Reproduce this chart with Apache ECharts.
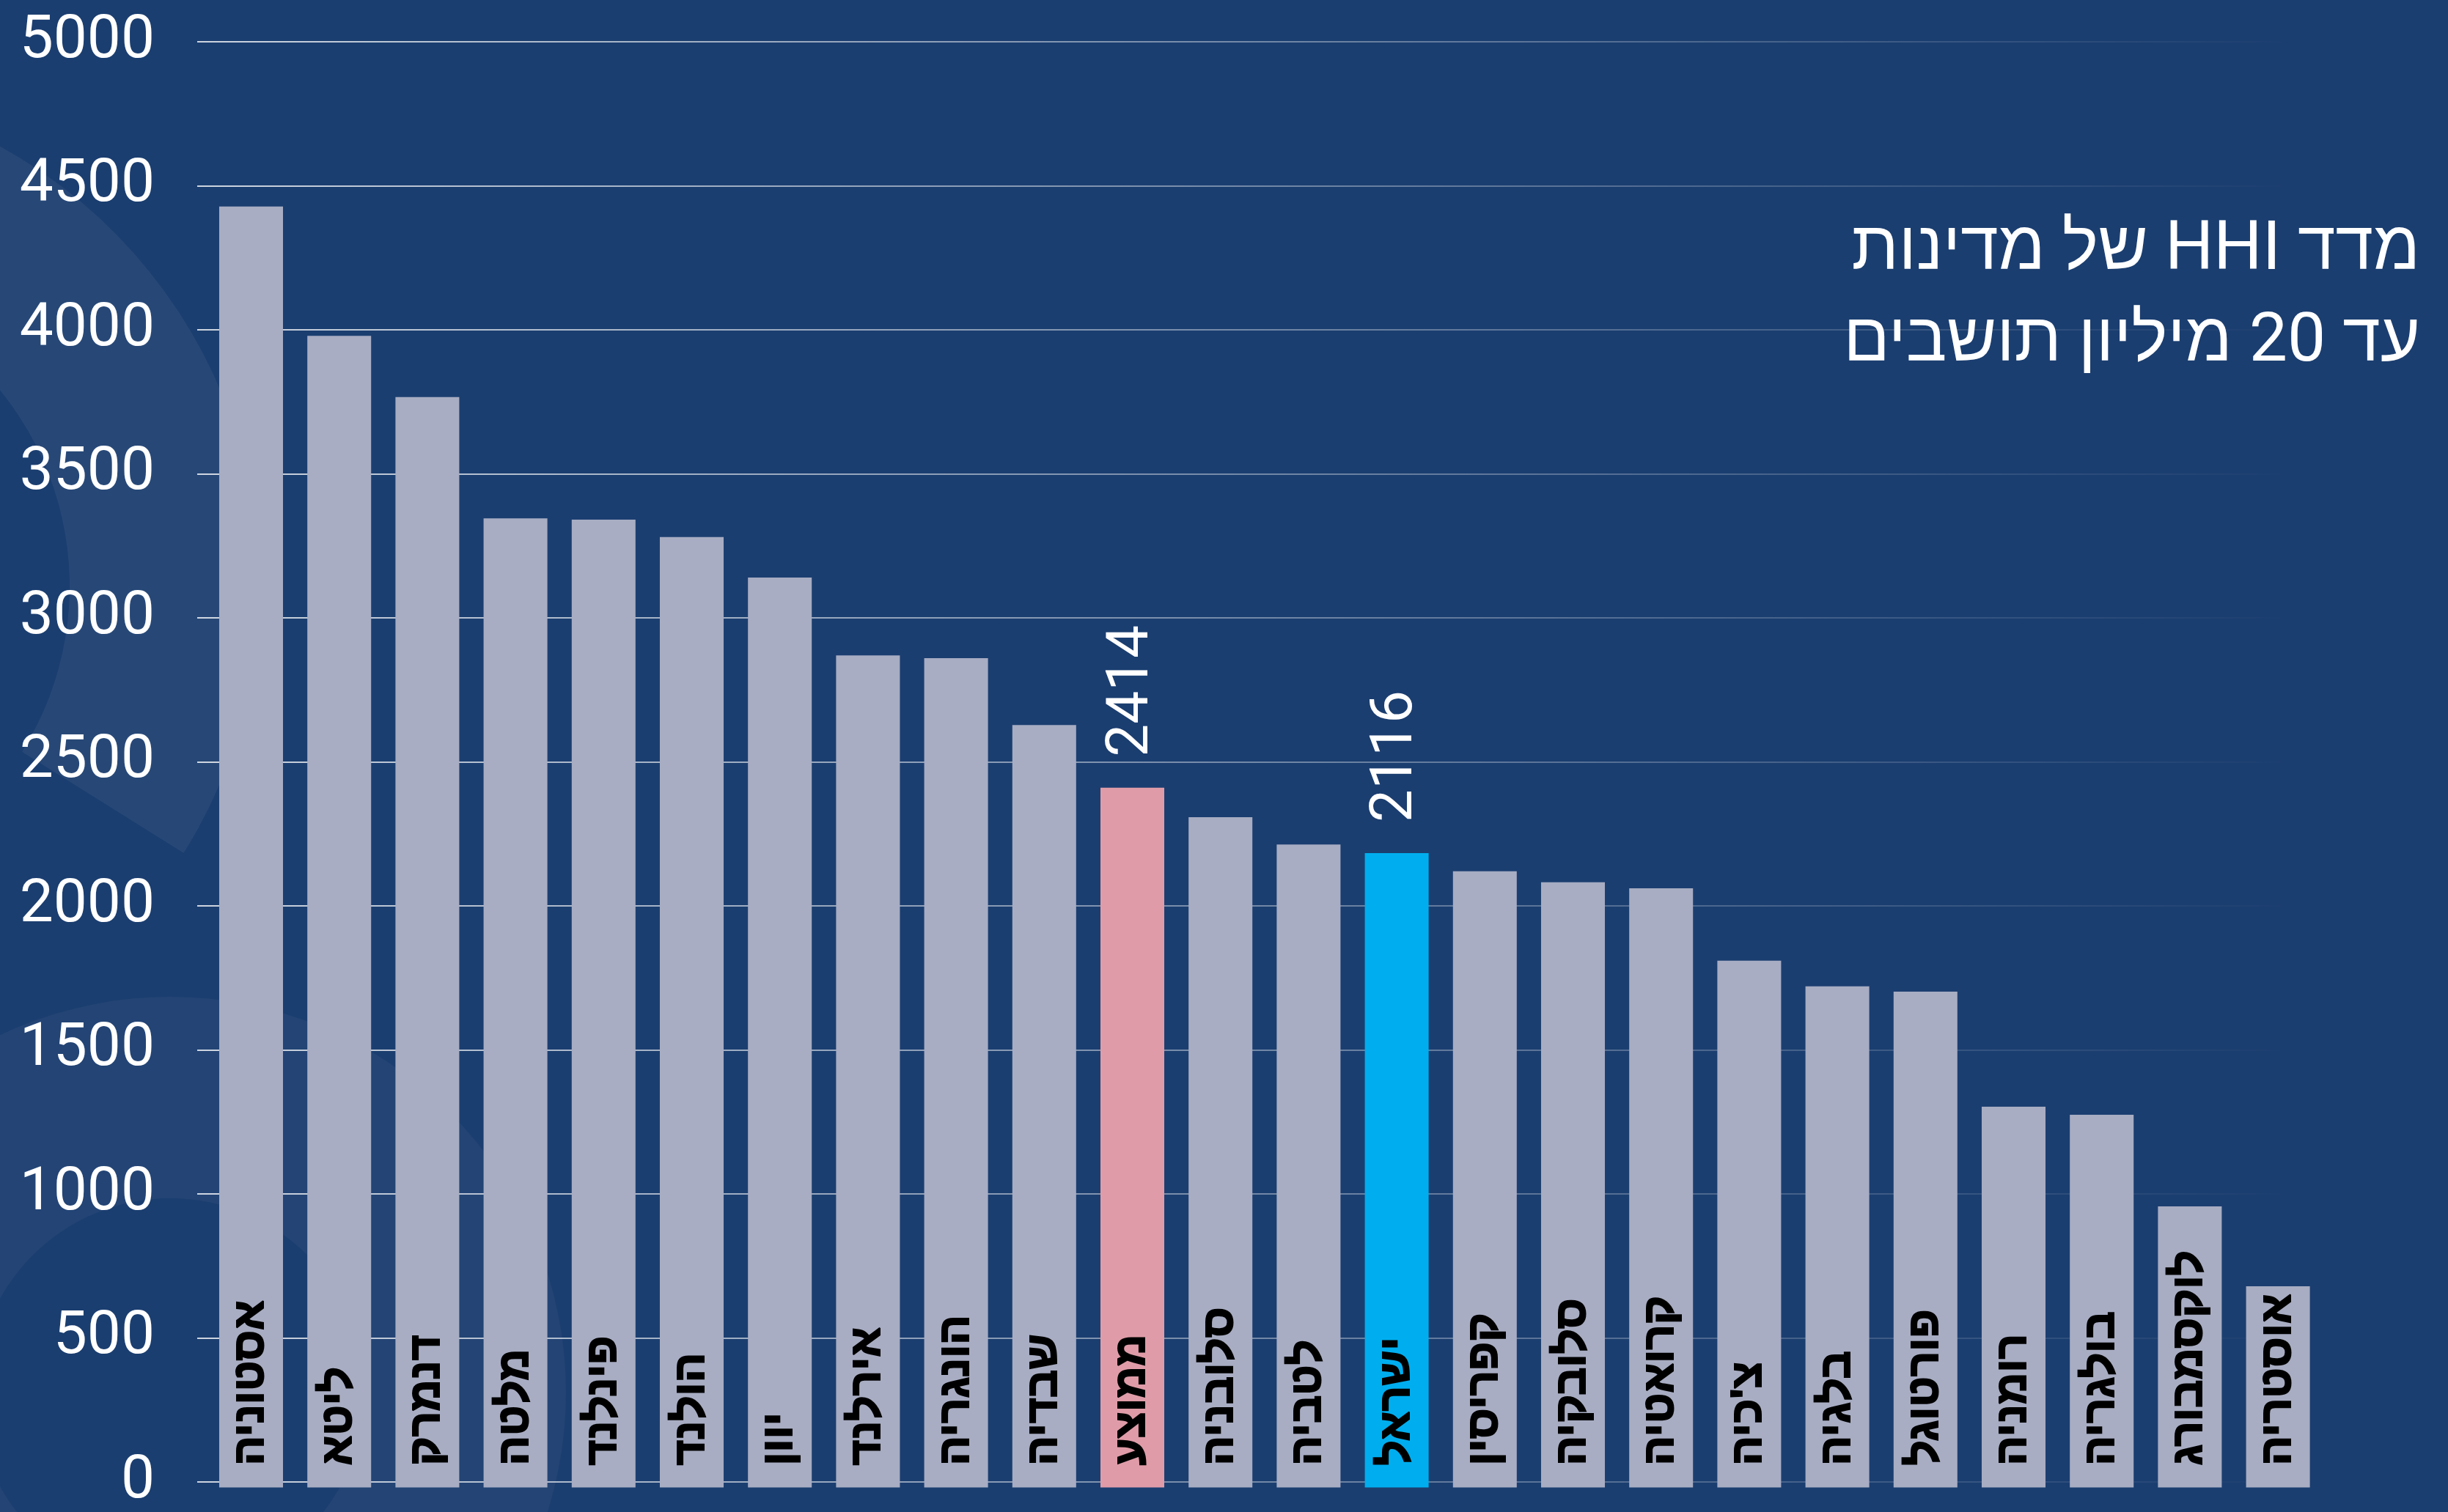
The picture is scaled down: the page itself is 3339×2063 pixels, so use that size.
<!DOCTYPE html>
<html lang="he" dir="rtl">
<head>
<meta charset="utf-8">
<script src="https://cdn.jsdelivr.net/npm/echarts@6/dist/echarts.min.js"></script>
<style>
  html, body { margin: 0; padding: 0; background: #1b3e70; }
  #echart { width: 3339px; height: 2063px; }
</style>
</head>
<body>
<div id="echart"></div>
<script>
// מדד HHI לפי מדינה
var countries = ['אסטוניה', 'ליטא', 'דנמרק', 'מלטה', 'פינלנד', 'הולנד', 'יוון', 'אירלנד', 'הונגריה', 'שבדיה',
                 'ממוצע', 'סלובניה', 'לטביה', 'ישראל', 'קפריסין', 'סלובקיה', 'קרואטיה', "צ'כיה", 'בלגיה', 'פורטוגל',
                 'רומניה', 'בולגריה', 'לוקסמבורג', 'אוסטריה'];
var hhiValues = [4430, 3983, 3771, 3352, 3347, 3287, 3147, 2878, 2868, 2637,
                 2420, 2318, 2224, 2194, 2131, 2093, 2072, 1822, 1733, 1715,
                 1317, 1289, 972, 696];
// only two bars carry a printed value
var printedValues = { 'ממוצע': '2414', 'ישראל': '2116' };
var yMin = 0, yMax = 5000, yStep = 500;

var titleLines = ['מדד HHI של מדינות', 'עד 20 מיליון תושבים'];

var barGrey = '#a8adc3';
var avgPink = '#df9ca8';
var israelBlue = '#00aeef';

var myChart = echarts.init(document.getElementById('echart'));

var gridLineColor = {
    type: 'linear', x: 269, y: 0, x2: 3120, y2: 0, global: true,
    colorStops: [
        { offset: 0, color: 'rgba(255,255,255,0.78)' },
        { offset: 0.55, color: 'rgba(255,255,255,0.35)' },
        { offset: 1, color: 'rgba(255,255,255,0)' }
    ]
};

var option = {
    backgroundColor: '#1b3e70',
    animation: false,
    graphic: [
        {
            type: 'sector', silent: true, z: -10,
            shape: { cx: -330, cy: 800, r0: 425, r: 685, startAngle: -1.07, endAngle: 0.56, clockwise: true },
            style: { fill: 'rgba(255,255,255,0.055)' }
        },
        {
            type: 'ring', silent: true, z: -10,
            shape: { cx: 232, cy: 1900, r0: 265, r: 540 },
            style: { fill: 'rgba(255,255,255,0.035)' }
        },
        {
            type: 'text', silent: true,
            x: 3301, y: 281,
            style: {
                text: titleLines.join('\n'),
                fill: '#ffffff',
                fontFamily: 'Roboto, "Liberation Sans", sans-serif',
                fontWeight: 400,
                fontSize: 93,
                lineHeight: 125,
                align: 'right',
                verticalAlign: 'top'
            }
        }
    ],
    grid: [
        { left: 269, right: 100, top: 57, bottom: 33.5 },
        { left: 282.4, right: 171.8, top: 57, bottom: 33.5 }
    ],
    xAxis: [
        { gridIndex: 0, type: 'value', show: false },
        {
            gridIndex: 1,
            type: 'category',
            data: countries,
            axisLine: { show: false },
            axisTick: { show: false },
            axisLabel: {
                inside: true,
                rotate: 90,
                margin: 30,
                color: '#000000',
                fontFamily: '"Liberation Sans", "DejaVu Sans", sans-serif',
                fontWeight: 'bold',
                fontSize: 60,
                textBorderColor: '#000000',
                textBorderWidth: 2
            },
            z: 5
        }
    ],
    yAxis: [
        {
            gridIndex: 0,
            type: 'value',
            min: yMin, max: yMax, interval: yStep,
            axisLine: { show: false },
            axisTick: { show: false },
            axisLabel: {
                margin: 58,
                color: '#ffffff',
                fontFamily: 'Roboto, sans-serif',
                fontSize: 82,
                padding: [8, 0, 0, 0],
                formatter: function (v) { return String(v); }
            },
            splitLine: { lineStyle: { color: gridLineColor, width: 2 } }
        },
        {
            gridIndex: 1,
            type: 'value',
            min: yMin, max: yMax, interval: yStep,
            show: false
        }
    ],
    series: [
        {
            type: 'bar',
            xAxisIndex: 1,
            yAxisIndex: 1,
            barCategoryGap: '27.6%',
            data: hhiValues,
            itemStyle: {
                color: function (p) {
                    if (p.name === 'ממוצע') return avgPink;
                    if (p.name === 'ישראל') return israelBlue;
                    return barGrey;
                }
            },
            label: {
                show: true,
                position: 'top',
                distance: 42,
                rotate: 90,
                align: 'left',
                verticalAlign: 'middle',
                color: '#ffffff',
                fontFamily: 'Roboto, sans-serif',
                fontSize: 80,
                formatter: function (p) {
                    return printedValues[p.name] || '';
                }
            }
        }
    ]
};

myChart.setOption(option);
window.onresize = myChart.resize;
</script>
</body>
</html>
